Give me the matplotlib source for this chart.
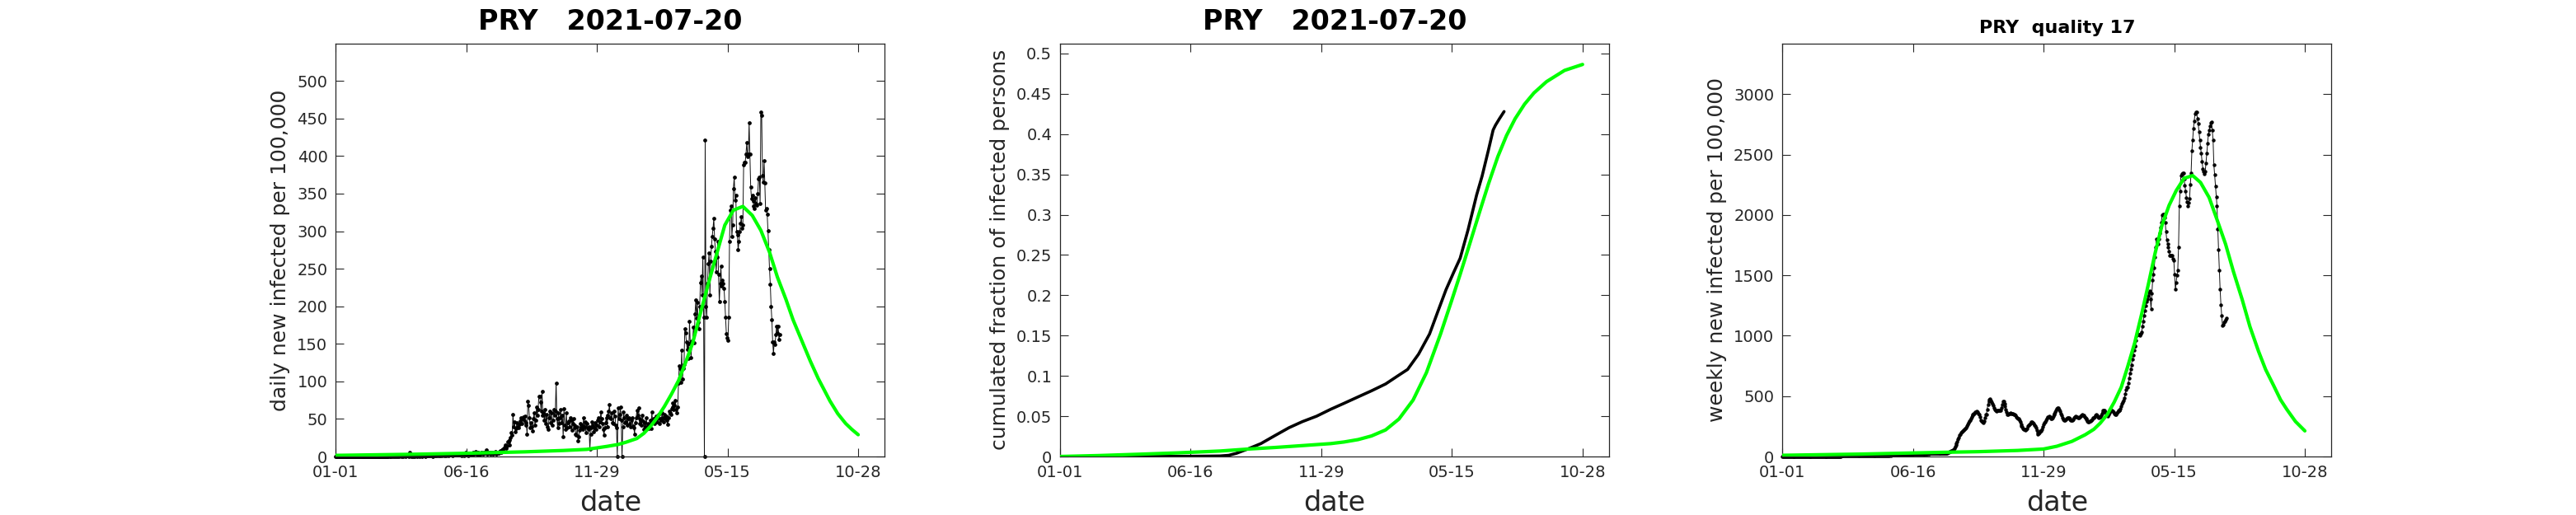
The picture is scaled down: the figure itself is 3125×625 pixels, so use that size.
import numpy as np
import matplotlib
matplotlib.use("Agg")
import matplotlib.pyplot as plt

# ---------------- data ----------------
tick_days = [0, 166.5, 333, 499.5, 666]
tick_labels = ['01-01', '06-16', '11-29', '05-15', '10-28']

# daily new infected per 100,000 (day 0 = 2020-01-01 ... day 566 = 2021-07-20)
daily_new = [
    0, 0, 0, 0, 0, 0, 0, 0, 0, 0,
    0, 0, 0, 0, 0, 0, 0, 0, 0, 0,
    0, 0, 0, 0, 0, 0, 0, 0, 0, 0,
    0, 0, 0, 0, 0, 0, 0, 0, 0, 0,
    0, 0, 0, 0, 0, 0, 0, 0, 0, 0,
    0, 0, 0, 0, 0, 0, 0, 0, 0, 0,
    0, 0, 0, 0, 0, 0, 0, 0, 1, 0,
    0, 1, 0, 1, 0, 1, 1, 0, 1, 0,
    1, 0, 1, 1, 0, 1, 0, 1, 1, 0,
    1, 1, 1, 0, 6, 1, 0, 1, 1, 0,
    1, 0, 1, 1, 0, 1, 1, 0, 1, 1,
    0, 1, 1, 1, 0, 1, 1, 2, 1, 1,
    1, 1, 2, 1, 0, 1, 2, 1, 1, 2,
    1, 2, 1, 1, 2, 1, 2, 2, 1, 2,
    2, 1, 2, 2, 1, 2, 3, 2, 2, 1,
    2, 3, 2, 2, 3, 2, 3, 3, 2, 3,
    2, 1, 3, 2, 1, 3, 6, 2, 4, 1,
    3, 2, 4, 3, 2, 5, 3, 4, 7, 3,
    4, 3, 5, 2, 4, 3, 6, 4, 3, 5,
    4, 6, 9, 3, 5, 4, 6, 3, 5, 4,
    5, 3, 6, 4, 7, 3, 5, 6, 4, 7,
    8, 6, 9, 10, 7, 12, 15, 11, 14, 20,
    20, 22, 15, 25, 32, 28, 56, 40, 46, 33,
    37, 45, 40, 38, 43, 47, 52, 44, 50, 53,
    48, 54, 42, 45, 30, 74, 68, 52, 38, 45,
    40, 34, 50, 58, 42, 48, 66, 55, 62, 80,
    80, 72, 60, 87, 55, 58, 48, 62, 44, 56,
    40, 36, 52, 60, 45, 58, 42, 48, 62, 55,
    60, 98, 50, 38, 58, 44, 52, 62, 45, 55,
    26, 64, 42, 36, 58, 38, 45, 47, 40, 52,
    48, 35, 44, 50, 38, 42, 30, 28, 40, 21,
    26, 35, 44, 38, 42, 36, 52, 40, 46, 32,
    44, 38, 36, 40, 10, 30, 38, 46, 42, 33,
    38, 45, 36, 42, 48, 52, 40, 46, 59, 50,
    44, 36, 28, 38, 45, 52, 40, 55, 60, 69,
    52, 50, 58, 45, 44, 60, 54, 42, 38, 0,
    65, 50, 56, 66, 48, 0, 40, 59, 52, 45,
    46, 55, 42, 50, 52, 44, 40, 48, 52, 41,
    38, 30, 45, 52, 61, 55, 65, 50, 44, 48,
    42, 55, 47, 36, 45, 40, 52, 38, 44, 37,
    42, 48, 37, 59, 46, 50, 44, 52, 48, 54,
    46, 52, 56, 44, 50, 48, 58, 52, 46, 56,
    50, 54, 48, 43, 52, 60, 58, 56, 64, 66,
    71, 62, 68, 75, 62, 58, 66, 98, 121, 117,
    99, 142, 103, 117, 123, 170, 165, 153, 143, 150,
    131, 180, 150, 132, 154, 152, 172, 151, 190, 208,
    184, 205, 179, 170, 200, 232, 240, 215, 266, 185,
    0, 421, 200, 185, 230, 257, 271, 215, 260, 280,
    293, 304, 317, 290, 273, 246, 265, 286, 242, 206,
    230, 253, 227, 235, 230, 224, 206, 185, 163, 158,
    155, 185, 286, 328, 334, 293, 308, 357, 372, 341,
    348, 300, 295, 275, 286, 300, 310, 319, 304, 308,
    388, 392, 392, 403, 418, 399, 403, 444, 403, 359,
    343, 348, 340, 334, 330, 345, 337, 335, 350, 370,
    372, 337, 459, 454, 374, 365, 394, 364, 328, 330,
    323, 301, 275, 250, 229, 200, 182, 153, 137, 153,
    149, 162, 173, 165, 173, 156, 162,
]

# weekly new infected per 100,000
weekly_new = [
    0, 0, 0, 0, 0, 0, 0, 0, 0, 0,
    0, 0, 0, 0, 0, 0, 0, 0, 0, 0,
    0, 0, 0, 0, 0, 0, 0, 0, 0, 0,
    0, 0, 0, 0, 0, 0, 0, 0, 0, 0,
    0, 0, 0, 0, 0, 0, 0, 0, 0, 0,
    0, 0, 0, 0, 0, 0, 0, 0, 0, 0,
    0, 0, 0, 0, 0, 0, 0, 0, 1, 1,
    1, 2, 2, 3, 3, 4, 4, 4, 4, 4,
    4, 4, 4, 5, 5, 5, 4, 5, 5, 4,
    4, 4, 5, 4, 9, 10, 9, 10, 10, 10,
    10, 9, 5, 5, 4, 5, 5, 5, 5, 5,
    5, 5, 5, 6, 5, 5, 6, 6, 7, 7,
    7, 7, 8, 7, 6, 7, 7, 8, 8, 8,
    8, 9, 9, 9, 10, 10, 10, 11, 10, 11,
    11, 11, 11, 12, 11, 12, 13, 13, 13, 13,
    14, 15, 15, 15, 16, 16, 17, 17, 17, 18,
    17, 16, 17, 17, 16, 16, 18, 18, 19, 18,
    19, 19, 20, 19, 20, 21, 21, 22, 23, 22,
    23, 22, 23, 22, 23, 22, 24, 23, 24, 24,
    24, 25, 27, 26, 27, 27, 28, 27, 27, 26,
    26, 25, 26, 25, 26, 26, 27, 27, 28, 29,
    30, 32, 36, 40, 44, 48, 50, 53, 55, 70,
    82, 95, 110, 125, 141, 160, 175, 185, 198, 205,
    212, 218, 225, 232, 240, 255, 268, 280, 290, 300,
    315, 330, 340, 346, 352, 358, 365, 368, 373, 365,
    355, 346, 325, 300, 290, 285, 277, 290, 320, 346,
    346, 390, 430, 460, 471, 480, 465, 450, 437, 420,
    405, 392, 380, 378, 380, 382, 381, 380, 380, 400,
    430, 460, 455, 440, 414, 390, 370, 346, 350, 355,
    357, 360, 357, 357, 352, 350, 346, 340, 330, 320,
    315, 312, 300, 285, 265, 250, 243, 235, 228, 222,
    220, 222, 235, 250, 260, 266, 275, 285, 289, 280,
    270, 262, 255, 240, 220, 200, 187, 190, 200, 209,
    209, 225, 245, 265, 280, 289, 300, 312, 325, 330,
    334, 325, 315, 312, 320, 335, 350, 357, 370, 385,
    395, 403, 400, 390, 375, 357, 340, 320, 305, 300,
    300, 305, 312, 320, 323, 318, 312, 305, 300, 300,
    300, 310, 320, 330, 334, 330, 325, 320, 323, 330,
    335, 340, 346, 343, 340, 330, 320, 312, 305, 295,
    289, 289, 290, 295, 300, 310, 318, 323, 330, 338,
    346, 340, 330, 323, 325, 330, 340, 355, 370, 380,
    385, 380, 370, 355, 340, 334, 345, 360, 372, 380,
    380, 375, 365, 355, 346, 350, 360, 370, 380, 380,
    380, 395, 415, 437, 450, 465, 483, 520, 550, 574,
    574, 610, 650, 688, 725, 760, 802, 840, 880, 915,
    915, 960, 1000, 1018, 1012, 1008, 1006, 1015, 1029, 1080,
    1120, 1166, 1210, 1250, 1280, 1302, 1330, 1355, 1370, 1300,
    1222, 1350, 1461, 1510, 1564, 1650, 1730, 1803, 1780, 1757,
    1800, 1848, 1894, 1940, 1996, 2005, 2007, 1980, 1939, 1860,
    1791, 1760, 1734, 1700, 1666, 1666, 1666, 1666, 1640, 1621,
    1507, 1382, 1439, 1500, 1541, 1734, 2076, 2200, 2326, 2340,
    2348, 2348, 2300, 2246, 2200, 2144, 2110, 2076, 2100, 2133,
    2250, 2348, 2531, 2620, 2712, 2780, 2838, 2850, 2853, 2800,
    2758, 2690, 2622, 2560, 2508, 2440, 2383, 2360, 2337, 2360,
    2430, 2508, 2590, 2667, 2700, 2735, 2760, 2770, 2700, 2622,
    2417, 2330, 2235, 2150, 2076, 1883, 1712, 1541, 1382, 1257,
    1166, 1086, 1090, 1109, 1120, 1130, 1143,
]

# cumulated fraction of infected persons (observed)
cum_days = [0, 60, 100, 150, 180, 204, 215, 225, 239, 256, 274, 292, 309, 327,
            345, 362, 380, 397, 415, 432, 443, 457, 471, 482, 492, 502, 510,
            520, 531, 538, 546, 552, 555, 560, 566]
cum_frac = [0, 0, 0.0001, 0.0002, 0.0004, 0.0007, 0.0015, 0.004, 0.0092, 0.016,
            0.026, 0.0358, 0.0433, 0.050, 0.0586, 0.066, 0.074, 0.0815, 0.090,
            0.101, 0.108, 0.127, 0.152, 0.181, 0.207, 0.229, 0.246, 0.281,
            0.3245, 0.348, 0.380, 0.405, 0.411, 0.419, 0.428]

# model (green) curves
model_daily_days = [0, 100, 171, 241, 290, 320, 346, 360, 370, 384, 393, 402,
                    410, 419, 428, 437, 446, 455, 465, 475, 486, 496, 507, 519,
                    531, 542, 553, 563, 574, 583, 593, 605, 615, 623, 630, 640,
                    650, 658, 666]
model_daily = [1.5, 3, 4.4, 6.2, 8, 9.5, 13.5, 16, 19, 24, 31, 41, 52, 66.6,
               83, 101, 125, 151, 191, 230, 271, 308, 328, 333, 321, 301, 272,
               239, 209, 182, 157, 127, 104, 88, 74, 57, 44, 36, 29]

model_cum_days = [0, 50, 100, 150, 204, 239, 274, 310, 345, 362, 380, 397, 415,
                  432, 450, 467, 485, 499, 510, 520, 534, 546, 558, 569, 580,
                  592, 604, 620, 643, 666]
model_cum = [0, 0.0012, 0.0028, 0.0045, 0.0068, 0.0092, 0.0112, 0.0136, 0.016,
             0.018, 0.021, 0.0255, 0.033, 0.0465, 0.070, 0.104, 0.152, 0.193,
             0.226, 0.257, 0.301, 0.338, 0.372, 0.398, 0.419, 0.437, 0.451,
             0.465, 0.479, 0.4864]

model_weekly_days = [0, 100, 200, 250, 300, 333, 350, 369, 386, 397, 405, 414,
                     423, 432, 440, 449, 458, 467, 475, 484, 493, 502, 512, 523,
                     533, 544, 554, 565, 575, 586, 596, 607, 616, 626, 635, 643,
                     654, 666]
model_weekly = [10, 20, 34, 40, 50, 62, 85, 125, 180, 225, 275, 346, 450, 574,
                740, 938, 1180, 1439, 1680, 1917, 2080, 2201, 2303, 2326, 2269,
                2144, 1962, 1757, 1530, 1302, 1075, 870, 720, 590, 470, 390,
                290, 212]

# ---------------- style ----------------
GRAY = '#262626'
GREEN = '#00ff00'
plt.rcParams['font.family'] = ['DejaVu Sans']

fig = plt.figure(figsize=(31.25, 6.25), dpi=100)
lefts = [0.1303, 0.4115, 0.6919]
bottom, width, height = 0.1136, 0.2132, 0.8021

days = np.arange(len(daily_new))
wdays = np.arange(len(weekly_new))


def style(ax, ylim, yticks, yticklabels, ylabel):
    ax.set_xlim(0, 700)
    ax.set_ylim(*ylim)
    ax.set_xticks(tick_days)
    ax.set_xticklabels(tick_labels)
    ax.set_yticks(yticks)
    ax.set_yticklabels(yticklabels)
    ax.tick_params(direction='in', length=7, width=0.8, colors=GRAY,
                   labelsize=14, top=True, right=True, pad=7)
    for s in ax.spines.values():
        s.set_color(GRAY)
        s.set_linewidth(0.9)
    ax.set_xlabel('date', fontsize=24, color=GRAY, labelpad=8)
    ax.set_ylabel(ylabel, fontsize=18, color=GRAY, labelpad=6)


# panel 1: daily
ax1 = fig.add_axes([lefts[0], bottom, width, height])
ax1.plot(days, daily_new, '-', color='#111111', lw=0.7, marker='o', ms=2.4,
         mfc='black', mec='black', clip_on=False, zorder=2)
ax1.plot(model_daily_days, model_daily, '-', color=GREEN, lw=3.0, zorder=3,
         solid_capstyle='round', solid_joinstyle='round')
style(ax1, (0, 550), list(range(0, 501, 50)), [str(v) for v in range(0, 501, 50)],
      'daily new infected per 100,000')
ax1.set_title('PRY   2021-07-20', fontsize=24, fontweight='bold', pad=12)

# panel 2: cumulated
ax2 = fig.add_axes([lefts[1], bottom, width, height])
ax2.plot(cum_days, cum_frac, '-', color='black', lw=2.6, zorder=2,
         solid_capstyle='round', solid_joinstyle='round')
ax2.plot(model_cum_days, model_cum, '-', color=GREEN, lw=3.0, zorder=3,
         solid_capstyle='round', solid_joinstyle='round')
yt2 = [0, 0.05, 0.1, 0.15, 0.2, 0.25, 0.3, 0.35, 0.4, 0.45, 0.5]
style(ax2, (0, 0.5125), yt2, ['0', '0.05', '0.1', '0.15', '0.2', '0.25', '0.3',
                              '0.35', '0.4', '0.45', '0.5'],
      'cumulated fraction of infected persons')
ax2.set_title('PRY   2021-07-20', fontsize=24, fontweight='bold', pad=12)

# panel 3: weekly
ax3 = fig.add_axes([lefts[2], bottom, width, height])
ax3.plot(wdays, weekly_new, '-', color='#111111', lw=0.7, marker='o', ms=2.2,
         mfc='black', mec='black', clip_on=False, zorder=2)
ax3.plot(model_weekly_days, model_weekly, '-', color=GREEN, lw=3.0, zorder=3,
         solid_capstyle='round', solid_joinstyle='round')
style(ax3, (0, 3420), list(range(0, 3001, 500)), [str(v) for v in range(0, 3001, 500)],
      'weekly new infected per 100,000')
ax3.set_title('PRY  quality 17', fontsize=16, fontweight='bold', pad=9)

fig.savefig('out.png', dpi=100)
